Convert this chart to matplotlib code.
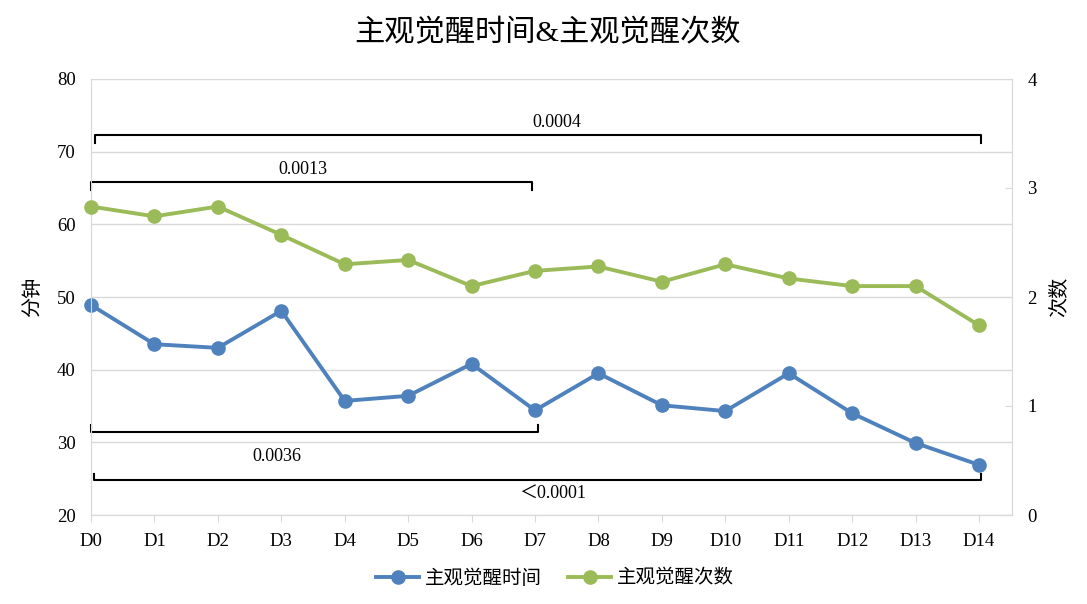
import matplotlib
matplotlib.use("Agg")
import matplotlib.pyplot as plt
from matplotlib.lines import Line2D

plt.rcParams['font.family'] = ['Liberation Serif', 'Noto Sans CJK SC', 'DejaVu Sans']

categories = ['D0', 'D1', 'D2', 'D3', 'D4', 'D5', 'D6', 'D7', 'D8', 'D9', 'D10', 'D11', 'D12', 'D13', 'D14']
wake_time = [48.9, 43.5, 43.0, 48.1, 35.7, 36.4, 40.8, 34.4, 39.5, 35.1, 34.3, 39.5, 34.0, 29.9, 26.9]
wake_count = [2.83, 2.74, 2.83, 2.57, 2.30, 2.34, 2.10, 2.24, 2.28, 2.14, 2.30, 2.17, 2.10, 2.10, 1.74]
series_names = ['主观觉醒时间', '主观觉醒次数']
title = '主观觉醒时间&主观觉醒次数'
left_label = '分钟'
right_label = '次数'

# significance brackets: (start idx, end idx, p-label)
brackets_top = [(0, 14, '0.0004'), (0, 7, '0.0013')]
brackets_bottom = [(0, 7, '0.0036'), (0, 14, '＜0.0001')]

blue = '#4F81BD'
green = '#9BBB59'
grid_c = '#D9D9D9'

fig = plt.figure(figsize=(10.87, 6.04), dpi=100)
ax = fig.add_axes([91/1087, 1-515/604, (1012-91)/1087, (515-79)/604])
ax2 = ax.twinx()

x = list(range(len(categories)))
ax.plot(x, wake_time, color=blue, lw=2.8, marker='o', ms=9.5, zorder=3, clip_on=False)
ax2.plot(x, wake_count, color=green, lw=2.8, marker='o', ms=9.5, zorder=3, clip_on=False)

ax.set_xlim(0, 14.52)
ax.set_ylim(20, 80)
ax.set_yticks(range(20, 81, 10))
ax2.set_ylim(0, 4)
ax2.set_yticks(range(0, 5))
ax.set_xticks(x)
ax.set_xticklabels(categories, fontsize=13.5)
ax.tick_params(axis='x', length=5, color=grid_c, pad=8)
ax.tick_params(axis='y', length=0, labelsize=13.5, pad=11)
ax2.tick_params(axis='y', direction='in', length=5, color=grid_c, labelsize=13.5, pad=11)
ax.grid(axis='y', color=grid_c, lw=1)
ax.set_axisbelow(True)
for a in (ax, ax2):
    a.spines['top'].set_visible(False)
    a.spines['left'].set_color(grid_c)
    a.spines['right'].set_color(grid_c)
    a.spines['bottom'].set_color(grid_c)

ax.set_ylabel(left_label, fontsize=14.5, labelpad=10, family=['Noto Sans CJK SC'])
ax2.set_ylabel(right_label, fontsize=14.5, labelpad=8, rotation=90, family=['Noto Sans CJK SC'])

fig.text(548/1087, 1-33/604, title, ha='center', va='center', fontsize=21.8,
         family=['Liberation Serif', 'Noto Sans CJK SC'])

# brackets (left-axis data coords)
def bracket(i0, i1, y, yend, label, lx, ly, x0off=0.0, x1off=0.0):
    xa, xb = i0 + x0off, i1 + x1off
    ax.plot([xa, xa, xb, xb], [yend, y, y, yend], color='black', lw=1.5, zorder=4, clip_on=False)
    ax.text(lx, ly, label, ha='center', va='center',
            fontsize=13, family=['Liberation Serif', 'Noto Sans CJK SC'])

bracket(0, 14, 72.3, 71.2, brackets_top[0][2], 7.35, 74.0, 0.06, 0.03)
bracket(0, 7, 65.8, 64.7, brackets_top[1][2], 3.34, 67.5, 0.0, -0.04)
bracket(0, 7, 31.4, 32.4, brackets_bottom[0][2], 2.93, 28.0, 0.0, 0.04)
bracket(0, 14, 24.8, 25.7, brackets_bottom[1][2], 7.28, 22.9, 0.04, 0.03)

handles = [Line2D([], [], color=blue, lw=2.8, marker='o', ms=9.5),
           Line2D([], [], color=green, lw=2.8, marker='o', ms=9.5)]
fig.legend(handles, series_names, loc='center', bbox_to_anchor=(555/1087, 1-578/604), ncol=2,
           frameon=False, handlelength=2.2, columnspacing=1.35, handletextpad=0.3,
           prop={'family': ['Noto Sans CJK SC'], 'size': 14})

fig.savefig('out.png', dpi=100)
